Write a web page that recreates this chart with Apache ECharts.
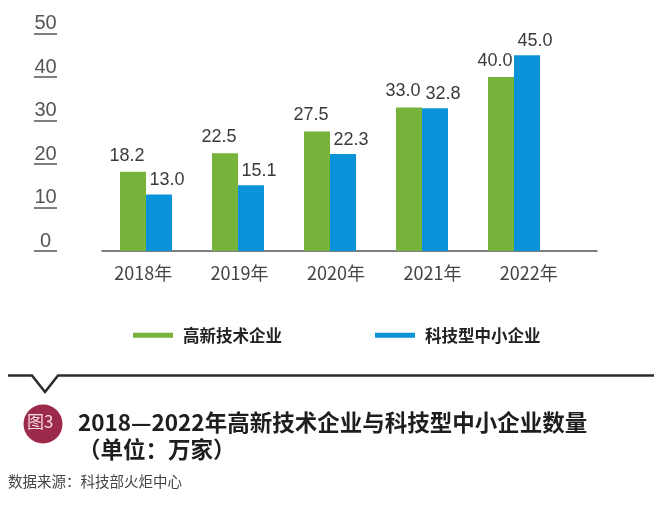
<!DOCTYPE html>
<html>
<head>
<meta charset="utf-8">
<script src="https://cdn.jsdelivr.net/npm/echarts@6/dist/echarts.min.js"></script>
<style>
html,body{margin:0;padding:0;background:#fff;}
#c{width:660px;height:505px;}
</style>
</head>
<body>
<div id="c"></div>
<script>
var categories = ['2018年', '2019年', '2020年', '2021年', '2022年'];
var highTech = [18.2, 22.5, 27.5, 33.0, 40.0];
var smeTech = [13.0, 15.1, 22.3, 32.8, 45.0];
var seriesNames = ['高新技术企业', '科技型中小企业'];
var yTicks = [0, 10, 20, 30, 40, 50];

var GREEN = '#77b23b';
var BLUE = '#0a93d8';
var numFont = '"Liberation Sans", Arial, sans-serif';
var cjkFont = '"Noto Sans CJK SC", sans-serif';

var chart = echarts.init(document.getElementById('c'), null, {renderer: 'canvas'});
var gridTop = 33.5, gridBottom = 254;

chart.setOption({
  animation: false,
  backgroundColor: '#ffffff',
  grid: [
    {left: 100, width: 460, top: gridTop, bottom: gridBottom},
    {left: 95, width: 482, top: gridTop, bottom: gridBottom},
    {left: 102, width: 495, top: gridTop, bottom: gridBottom}
  ],
  legend: {
    data: seriesNames,
    left: 128,
    top: 322,
    itemWidth: 40,
    itemHeight: 5,
    itemGap: 93,
    icon: 'rect',
    textStyle: {fontFamily: cjkFont, fontWeight: 'bold', fontSize: 16.5, color: '#222', padding: [0, 0, 0, 5]}
  },
  xAxis: [
    {gridIndex: 0, type: 'category', data: categories,
     axisLine: {show: false}, axisTick: {show: false}, axisLabel: {show: false}},
    {gridIndex: 1, type: 'category', data: categories,
     axisLine: {show: false}, axisTick: {show: false},
     axisLabel: {margin: 13, fontFamily: cjkFont, fontSize: 18, color: '#444'}},
    {gridIndex: 2, type: 'value', min: 0, max: 1,
     axisLine: {show: true, lineStyle: {color: '#555', width: 1.5}},
     axisTick: {show: false}, axisLabel: {show: false}, splitLine: {show: false}}
  ],
  yAxis: [
    {gridIndex: 0, type: 'value', min: yTicks[0], max: yTicks[yTicks.length - 1], interval: yTicks[1] - yTicks[0],
     offset: 66,
     axisLine: {show: false},
     axisTick: {show: true, inside: true, length: 23, lineStyle: {color: '#555', width: 1.5}},
     splitLine: {show: false},
     axisLabel: {inside: true, margin: 11.5, align: 'center', verticalAlign: 'bottom',
       fontFamily: numFont, fontSize: 20, color: '#555'}},
    {gridIndex: 1, type: 'value', min: 0, max: 50, show: false},
    {gridIndex: 2, type: 'value', min: 0, max: 50, show: false}
  ],
  series: [
    {name: seriesNames[0], type: 'bar', xAxisIndex: 0, yAxisIndex: 0, data: highTech,
     barWidth: 26, barGap: '0%', itemStyle: {color: GREEN},
     label: {show: true, position: 'top', distance: 7, offset: [-6, 0],
       formatter: function (p) { return p.value.toFixed(1); },
       fontFamily: numFont, fontSize: 18, color: '#3a3a3a'}},
    {name: seriesNames[1], type: 'bar', xAxisIndex: 0, yAxisIndex: 0, data: smeTech,
     barWidth: 26, barGap: '0%', itemStyle: {color: BLUE},
     label: {show: true, position: 'top', distance: 5, offset: [8, 0],
       formatter: function (p) { return p.value.toFixed(1); },
       fontFamily: numFont, fontSize: 18, color: '#3a3a3a'}}
  ],
  graphic: [
    {type: 'polyline', silent: true,
     shape: {points: [[8, 375.5], [32, 375.5], [45, 392], [58, 375.5], [654, 375.5]]},
     style: {stroke: '#2b2b2b', lineWidth: 2.5, fill: null}},
    {type: 'circle', silent: true, shape: {cx: 43, cy: 424, r: 19.5}, style: {fill: '#9c2a4a'}},
    {type: 'text', silent: true, left: 27, top: 413,
     style: {text: '图3', fill: '#f4d9e0', font: '17px "Noto Sans CJK SC", sans-serif'}},
    {type: 'text', silent: true, left: 78, top: 411,
     style: {text: '2018—2022年高新技术企业与科技型中小企业数量', fill: '#1e1e1e',
       font: 'bold 22.5px "Noto Sans CJK SC", sans-serif'}},
    {type: 'text', silent: true, left: 78, top: 438,
     style: {text: '（单位：万家）', fill: '#1e1e1e',
       font: 'bold 22.5px "Noto Sans CJK SC", sans-serif'}},
    {type: 'text', silent: true, left: 8, top: 474,
     style: {text: '数据来源：科技部火炬中心', fill: '#444',
       font: '14.5px "Noto Sans CJK SC", sans-serif'}}
  ]
});
</script>
</body>
</html>
